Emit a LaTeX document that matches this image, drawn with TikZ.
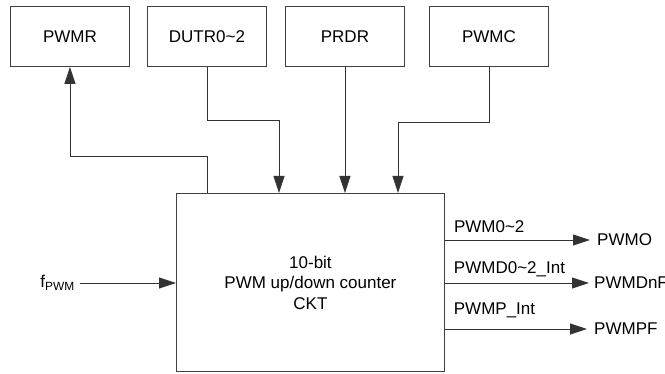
\documentclass[tikz,border=0pt]{standalone}
\usepackage{fontspec}
\setmainfont{Liberation Sans}
\usetikzlibrary{arrows.meta}
\begin{document}
\begin{tikzpicture}[x=1pt,y=-1pt,
  every node/.style={font=\fontsize{17}{20.5}\selectfont},
  regbox/.style={draw=black!75,line width=0.9pt,minimum width=119pt,minimum height=60pt,anchor=north west,inner sep=0pt},
  conn/.style={draw=black!80,line width=0.9pt},
  arr/.style={conn,-{Triangle[length=17pt,width=11pt]}},
  lbl/.style={inner sep=0pt}]
\useasboundingbox (0,0) rectangle (665,374);
\node[regbox] (PWMR) at (10,6) {PWMR};
\node[regbox] (DUTR) at (147,6) {DUTR0\textasciitilde 2};
\node[regbox] (PRDR) at (285,6) {PRDR};
\node[regbox] (PWMC) at (429,6) {PWMC};
\node[regbox,minimum width=268pt,minimum height=178pt,align=center] (main) at (176,193) {10-bit\\PWM up/down counter\\CKT};
% top connectors
\coordinate (pr) at (207,156);
\draw[arr] (main.north -| pr) -- (pr) -| (PWMR.south);
\coordinate (du) at (279,120);
\draw[arr] (DUTR.south) |- (du) -- (du |- main.north);
\draw[arr] (PRDR.south) -- (PRDR.south |- main.north);
\coordinate (pc) at (398,122);
\draw[arr] (PWMC.south) |- (pc) -- (pc |- main.north);
% input
\node[lbl,anchor=east] (fpwm) at (75,283) {f\textsubscript{PWM}};
\draw[arr] ([xshift=5pt]fpwm.east) -- (main.west |- fpwm.east);
% outputs
\node[lbl,anchor=west] (PWMO) at (597,240) {PWMO};
\node[lbl,anchor=west] (PWMDnF) at (594,283) {PWMDnF};
\node[lbl,anchor=west] (PWMPF) at (594,329) {PWMPF};
\draw[arr] (main.east |- PWMO.west) -- node[pos=0.06,anchor=south west,inner sep=0pt,yshift=7pt]{PWM0\textasciitilde 2} ([xshift=-7pt]PWMO.west);
\draw[arr] (main.east |- PWMDnF.west) -- node[pos=0.06,anchor=south west,inner sep=0pt,yshift=6pt]{PWMD0\textasciitilde 2\_Int} ([xshift=-5pt]PWMDnF.west);
\draw[arr] (main.east |- PWMPF.west) -- node[pos=0.06,anchor=south west,inner sep=0pt,yshift=11pt]{PWMP\_Int} ([xshift=-7pt]PWMPF.west);
\end{tikzpicture}
\end{document}
